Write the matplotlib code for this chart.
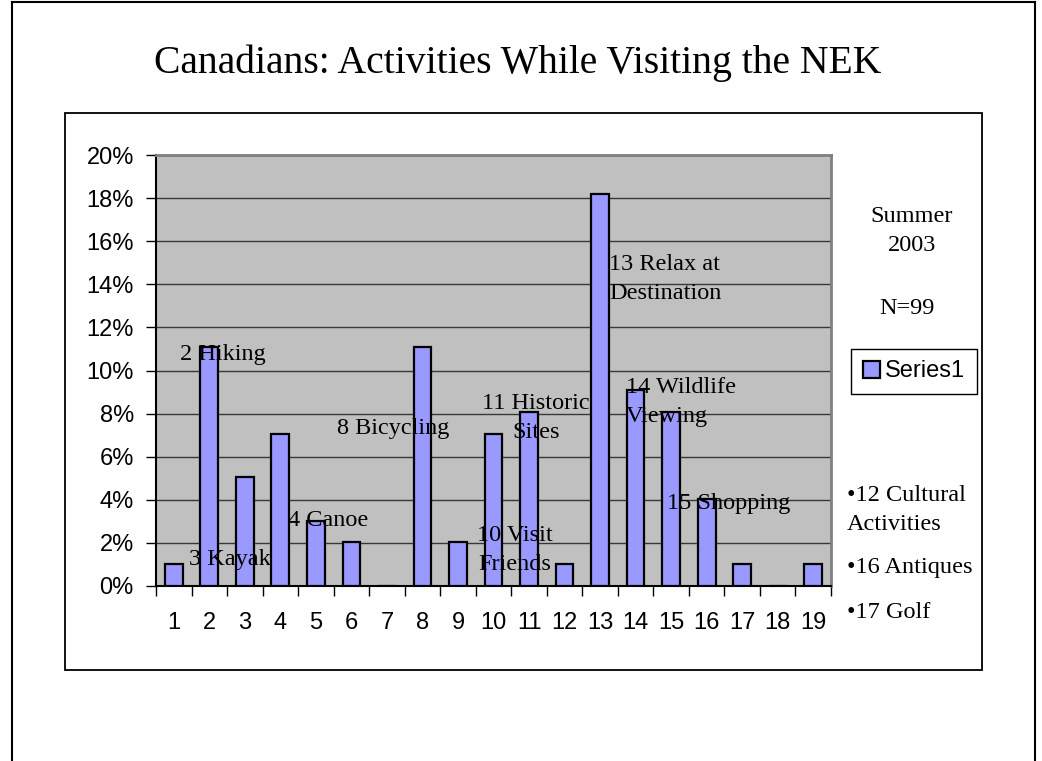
import numpy as np
import matplotlib
matplotlib.use("Agg")
import matplotlib.pyplot as plt
import matplotlib.ticker as ticker
from matplotlib.patches import Rectangle
from matplotlib.lines import Line2D

# data (N = 99 respondents)
activity = list(range(1, 20))
counts = [1, 11, 5, 7, 3, 2, 0, 11, 2, 7, 8, 1, 18, 9, 8, 4, 1, 0, 1]
n_resp = 99
pct = [c / n_resp * 100 for c in counts]

# labels written next to the bars: (text, x, y, alignment)
bar_notes = [
    ("2 Hiking", 1.18, 10.72, "left"),
    ("3 Kayak", 1.43, 1.21, "left"),
    ("4 Canoe", 4.22, 3.06, "left"),
    ("8 Bicycling", 5.59, 7.33, "left"),
    ("10 Visit\nFriends", 10.60, 1.67, "center"),
    ("11 Historic\nSites", 11.20, 7.80, "center"),
    ("13 Relax at\nDestination", 13.25, 14.25, "left"),
    ("14 Wildlife\nViewing", 13.73, 8.54, "left"),
    ("15 Shopping", 14.88, 3.85, "left"),
]
side_notes = ["\u202212 Cultural\nActivities", "\u202216 Antiques", "\u202217 Golf"]

W, H = 1042, 761
serif = "Liberation Serif"
sans = "Liberation Sans"

fig = plt.figure(figsize=(W / 100, H / 100), dpi=100)
fig.patch.set_facecolor("white")


def fx(px):
    return px / W


def fy(py):
    return 1 - py / H


# slide frame and chart box
fig.add_artist(Line2D([fx(12), fx(12)], [-0.1, fy(2)], color="black", lw=1.5))
fig.add_artist(Line2D([fx(12), fx(1035)], [fy(2), fy(2)], color="black", lw=1.5))
fig.add_artist(Line2D([fx(1035), fx(1035)], [-0.1, fy(2)], color="black", lw=1.5))
fig.add_artist(Rectangle((fx(65), fy(670)), fx(982) - fx(65), fy(113) - fy(670),
                         transform=fig.transFigure, fill=False, ec="black", lw=1.3))

fig.text(fx(518), fy(63), "Canadians: Activities While Visiting the NEK",
         family=serif, fontsize=28.5, ha="center", va="center")

ax = fig.add_axes([fx(156), fy(586), fx(831) - fx(156), fy(155) - fy(586)])
ax.set_facecolor("#C0C0C0")
ax.bar(activity, pct, width=0.5, color="#9999FF", edgecolor="black",
       linewidth=1.6, zorder=3, label="Series1")

ax.set_xlim(0.5, 19.5)
ax.set_ylim(0, 20)
ax.yaxis.set_major_locator(ticker.MultipleLocator(2))
ax.yaxis.set_major_formatter(ticker.FuncFormatter(lambda v, p: "%d%%" % round(v)))
ax.grid(axis="y", color="#383838", lw=1.0, zorder=1)
ax.set_axisbelow(True)

ax.set_xticks(activity)
ax.set_xticklabels([str(a) for a in activity])
ax.set_xticks(np.arange(0.5, 20, 1), minor=True)
ax.tick_params(axis="x", which="major", length=0, pad=19, labelsize=17)
ax.tick_params(axis="x", which="minor", length=7, width=1, direction="out")
ax.tick_params(axis="y", length=7, width=1, direction="out", pad=9, labelsize=17)
for lab in ax.get_xticklabels() + ax.get_yticklabels():
    lab.set_family(sans)

for side in ["top", "right"]:
    ax.spines[side].set_color("#808080")
    ax.spines[side].set_linewidth(2)
for side in ["left", "bottom"]:
    ax.spines[side].set_color("black")
    ax.spines[side].set_linewidth(1.5)

for txt, x, y, ha in bar_notes:
    ax.text(x, y, txt, family=serif, fontsize=17.5, ha=ha, va="center",
            multialignment=ha, linespacing=1.45, zorder=5)

fig.text(fx(912), fy(231), "Summer\n2003", family=serif, fontsize=17.5,
         ha="center", va="center", linespacing=1.45)
fig.text(fx(907), fy(308), "N=99", family=serif, fontsize=17.5,
         ha="center", va="center")

leg = ax.legend(loc="center", bbox_to_anchor=(fx(914), fy(371.5)),
                bbox_transform=fig.transFigure, prop={"family": sans, "size": 17},
                fancybox=False, framealpha=1, edgecolor="black",
                handlelength=0.75, handleheight=0.75, handletextpad=0.2,
                borderpad=0.5, borderaxespad=0)
leg.get_frame().set_linewidth(1.0)

side_y = [510, 568, 613]
for txt, py in zip(side_notes, side_y):
    fig.text(fx(847), fy(py), txt, family=serif, fontsize=17.5,
             ha="left", va="center", linespacing=1.45)

fig.savefig("out.png", dpi=100)
